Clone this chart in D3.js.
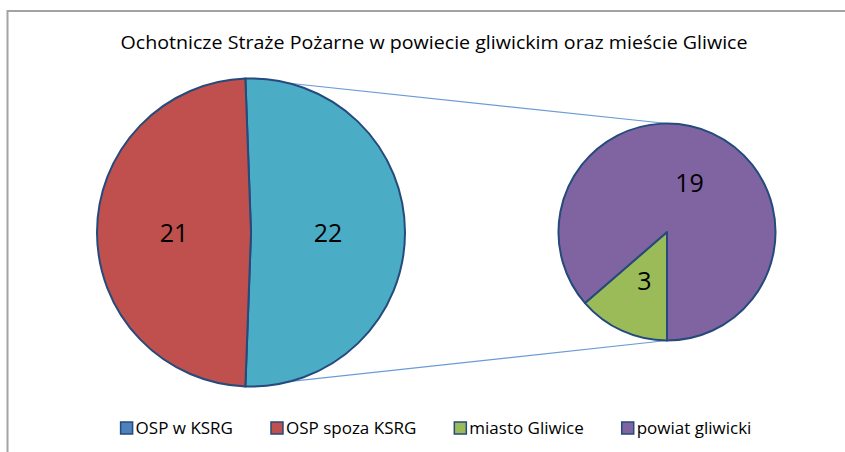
<!DOCTYPE html>
<html>
<head>
<meta charset="utf-8">
<script src="https://cdn.jsdelivr.net/npm/d3@7"></script>
<style>
	html, body { margin: 0; padding: 0; background: #fff; }
	svg { display: block; }
	text { font-family: "Open Sans", "DejaVu Sans", sans-serif; fill: #000; }
</style>
</head>
<body>
<svg id="chart" width="845" height="452"></svg>
<script>
(function (d3) {
	"use strict";

	/***** Data *****/
	var titleText = "Ochotnicze Straże Pożarne w powiecie gliwickim oraz mieście Gliwice";

	// main pie: the first slice is split into the secondary pie
	var mainLabels = ["OSP w KSRG", "OSP spoza KSRG"];
	var mainValues = [22, 21];

	// secondary pie
	var subLabels = ["miasto Gliwice", "powiat gliwicki"];
	var subValues = [3, 19];

	var legendLabels = ["OSP w KSRG", "OSP spoza KSRG", "miasto Gliwice", "powiat gliwicki"];
	var legendColors = ["#4f81bd", "#c0504d", "#9bbb59", "#8064a2"];

	/***** Layout *****/
	const width = 845, height = 452;
	const mainCenter = [251, 232.5], mainRadius = 154;
	const subCenter = [667, 232], subRadius = 108.5;
	const strokeColor = "#254a7c";

	var svg = d3.select("#chart");

	// chart area frame (goes past the right and bottom edge)
	svg.append("rect")
		.attr("x", 7.5).attr("y", 11)
		.attr("width", width + 20).attr("height", height + 20)
		.attr("fill", "#fff")
		.attr("stroke", "#a3a3a3")
		.attr("stroke-width", 2);

	// title
	svg.append("text")
		.attr("x", 434).attr("y", 49)
		.attr("text-anchor", "middle")
		.attr("font-size", 18)
		.attr("textLength", 627)
		.attr("lengthAdjust", "spacingAndGlyphs")
		.text(titleText);

	/***** Main pie *****/
	var mainTotal = d3.sum(mainValues);
	var splitAngle = mainValues[0] / mainTotal * 2 * Math.PI;
	// split slice centred on the right side (90 degrees)
	var mainPie = d3.pie().sort(null)
		.startAngle(Math.PI / 2 - splitAngle / 2)
		.endAngle(Math.PI / 2 - splitAngle / 2 + 2 * Math.PI);
	var mainArcs = mainPie(mainValues);
	var mainColors = d3.scaleOrdinal().domain(mainLabels).range(["#4bacc6", "#c0504d"]);
	var mainArc = d3.arc().innerRadius(0).outerRadius(mainRadius);

	/***** Secondary pie *****/
	var subPie = d3.pie().sort(null)
		.startAngle(Math.PI)
		.endAngle(3 * Math.PI);
	var subArcs = subPie(subValues);
	var subColors = d3.scaleOrdinal().domain(subLabels).range(["#9bbb59", "#8064a2"]);
	var subArc = d3.arc().innerRadius(0).outerRadius(subRadius);

	// connector lines, from the ends of the split slice to top and bottom of the small pie
	function pointOn(center, r, a) {
		return [center[0] + r * Math.sin(a), center[1] - r * Math.cos(a)];
	}
	var split = mainArcs[0];
	var connectors = [
		[pointOn(mainCenter, mainRadius, split.startAngle), pointOn(subCenter, subRadius, 0)],
		[pointOn(mainCenter, mainRadius, split.endAngle), pointOn(subCenter, subRadius, Math.PI)]
	];
	svg.selectAll("line.connector")
		.data(connectors)
		.join("line")
		.attr("class", "connector")
		.attr("x1", d => d[0][0]).attr("y1", d => d[0][1])
		.attr("x2", d => d[1][0]).attr("y2", d => d[1][1])
		.attr("stroke", "#6b9bd6")
		.attr("stroke-width", 1.2);

	var gMain = svg.append("g")
		.attr("transform", "translate(" + mainCenter + ")");
	gMain.selectAll("path")
		.data(mainArcs)
		.join("path")
		.attr("d", mainArc)
		.attr("fill", (d, i) => mainColors(mainLabels[i]))
		.attr("stroke", strokeColor)
		.attr("stroke-width", 2)
		.attr("stroke-linejoin", "round");
	gMain.selectAll("text")
		.data(mainArcs)
		.join("text")
		.attr("transform", d => "translate(" + mainArc.centroid(d) + ")")
		.attr("text-anchor", "middle")
		.attr("dy", "0.36em")
		.attr("font-size", 25)
		.text(d => d.data);

	var gSub = svg.append("g")
		.attr("transform", "translate(" + subCenter + ")");
	gSub.selectAll("path")
		.data(subArcs)
		.join("path")
		.attr("d", subArc)
		.attr("fill", (d, i) => subColors(subLabels[i]))
		.attr("stroke", strokeColor)
		.attr("stroke-width", 2)
		.attr("stroke-linejoin", "round");
	gSub.selectAll("text")
		.data(subArcs)
		.join("text")
		.attr("transform", d => "translate(" + subArc.centroid(d) + ")")
		.attr("text-anchor", "middle")
		.attr("dy", "0.36em")
		.attr("font-size", 25)
		.text(d => d.data);

	/***** Legend *****/
	const legendY = 428, boxSize = 12, boxGap = 3, itemGap = 38, legendCenter = 436;
	var legend = svg.append("g");
	var items = legend.selectAll("g")
		.data(legendLabels)
		.join("g");
	items.append("rect")
		.attr("width", boxSize).attr("height", boxSize)
		.attr("y", legendY - boxSize / 2)
		.attr("fill", (d, i) => legendColors[i])
		.attr("stroke", strokeColor)
		.attr("stroke-width", 1.5);
	var texts = items.append("text")
		.attr("x", boxSize + boxGap)
		.attr("y", legendY)
		.attr("dy", "0.35em")
		.attr("font-size", 17)
		.text(d => d);

	// place items one after another, centred
	var x = 0, offsets = [];
	texts.each(function () {
		offsets.push(x);
		x += boxSize + boxGap + this.getComputedTextLength() + itemGap;
	});
	var total = x - itemGap;
	items.attr("transform", (d, i) => "translate(" + (legendCenter - total / 2 + offsets[i]) + ",0)");

})(d3);
</script>
</body>
</html>
